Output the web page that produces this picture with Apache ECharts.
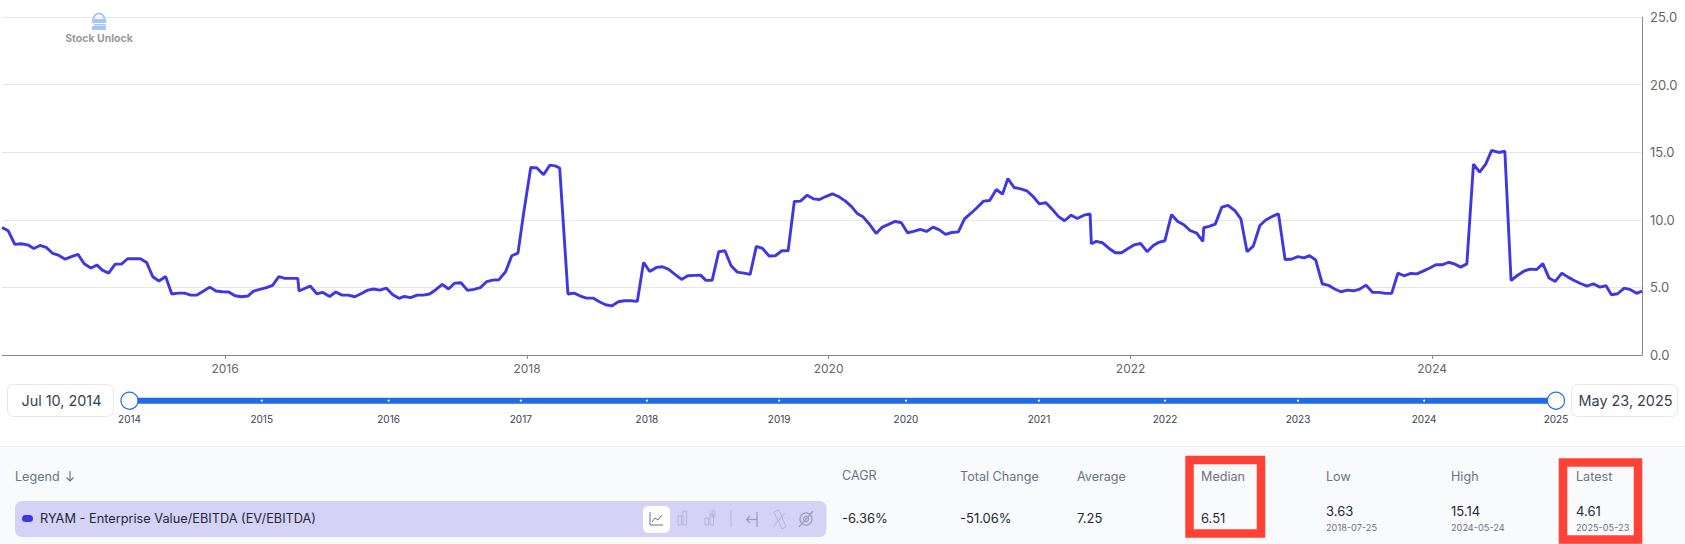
<!DOCTYPE html>
<html><head><meta charset="utf-8">
<style>html,body{margin:0;padding:0;background:#fff}#c{width:1685px;height:544px}</style>
<script src="https://cdn.jsdelivr.net/npm/echarts@6/dist/echarts.min.js"></script>
</head><body><div id="c"></div>
<script>
const dates = [
"2014-07-10","2014-07-25","2014-08-10","2014-08-25","2014-09-10","2014-09-25","2014-10-10","2014-10-25","2014-11-10","2014-11-25","2014-12-10","2014-12-25",
"2015-01-10","2015-01-25","2015-02-10","2015-02-25","2015-03-10","2015-03-25","2015-04-10","2015-04-25","2015-05-10","2015-05-25","2015-06-10","2015-06-25","2015-07-10","2015-07-25","2015-08-10","2015-08-25","2015-09-10","2015-09-25","2015-10-10","2015-10-25","2015-11-10","2015-11-25","2015-12-10","2015-12-25",
"2016-01-10","2016-01-25","2016-02-10","2016-02-25","2016-03-10","2016-03-25","2016-04-10","2016-04-25","2016-05-10","2016-05-25","2016-06-10","2016-06-25","2016-06-28","2016-07-10","2016-07-25","2016-08-10","2016-08-25","2016-09-10","2016-09-25","2016-10-10","2016-10-25","2016-11-10","2016-11-25","2016-12-10","2016-12-25",
"2017-01-10","2017-01-25","2017-02-10","2017-02-25","2017-03-10","2017-03-25","2017-04-10","2017-04-25","2017-05-10","2017-05-25","2017-06-10","2017-06-25","2017-07-10","2017-07-25","2017-08-10","2017-08-25","2017-09-10","2017-09-25","2017-10-10","2017-10-25","2017-11-10","2017-11-25","2017-12-10","2017-12-25",
"2018-01-10","2018-01-25","2018-02-10","2018-02-25","2018-03-10","2018-03-21","2018-04-10","2018-04-25","2018-05-10","2018-05-25","2018-06-10","2018-06-25","2018-07-10","2018-07-25","2018-08-10","2018-08-25","2018-09-10","2018-09-25","2018-10-10","2018-10-25","2018-11-10","2018-11-25","2018-12-10","2018-12-25",
"2019-01-10","2019-01-25","2019-02-10","2019-02-25","2019-03-10","2019-03-25","2019-04-10","2019-04-25","2019-05-10","2019-05-25","2019-06-10","2019-06-25","2019-07-10","2019-07-25","2019-08-10","2019-08-25","2019-09-10","2019-09-25","2019-10-10","2019-10-25","2019-11-10","2019-11-25","2019-12-10","2019-12-25",
"2020-01-10","2020-01-25","2020-02-10","2020-02-25","2020-03-10","2020-03-25","2020-04-10","2020-04-25","2020-05-10","2020-05-25","2020-06-10","2020-06-25","2020-07-10","2020-07-25","2020-08-10","2020-08-25","2020-09-10","2020-09-25","2020-10-10","2020-10-25","2020-11-10","2020-11-25","2020-12-10","2020-12-25",
"2021-01-10","2021-01-25","2021-02-10","2021-02-25","2021-03-10","2021-03-25","2021-04-10","2021-04-25","2021-05-10","2021-05-25","2021-06-10","2021-06-25","2021-07-10","2021-07-25","2021-08-10","2021-08-25","2021-09-10","2021-09-25","2021-09-28","2021-10-10","2021-10-25","2021-11-10","2021-11-25","2021-12-10","2021-12-25",
"2022-01-10","2022-01-25","2022-02-10","2022-02-25","2022-03-10","2022-03-25","2022-04-10","2022-04-25","2022-05-10","2022-05-25","2022-06-10","2022-06-25","2022-06-27","2022-07-10","2022-07-25","2022-08-10","2022-08-25","2022-09-10","2022-09-25","2022-10-10","2022-10-25","2022-11-10","2022-11-25","2022-12-10","2022-12-25",
"2023-01-10","2023-01-25","2023-02-10","2023-02-25","2023-03-10","2023-03-25","2023-04-10","2023-04-25","2023-05-10","2023-05-25","2023-06-10","2023-06-25","2023-07-10","2023-07-25","2023-08-10","2023-08-25","2023-09-10","2023-09-25","2023-10-10","2023-10-25","2023-11-10","2023-11-25","2023-12-10","2023-12-25",
"2024-01-10","2024-01-25","2024-02-10","2024-02-25","2024-03-10","2024-03-25","2024-04-10","2024-04-25","2024-05-10","2024-05-24","2024-06-10","2024-06-25","2024-07-10","2024-07-25","2024-08-10","2024-08-25","2024-09-10","2024-09-25","2024-10-10","2024-10-25","2024-11-10","2024-11-25","2024-12-10","2024-12-25",
"2025-01-10","2025-01-25","2025-02-10","2025-02-25","2025-03-10","2025-03-25","2025-04-10","2025-04-25","2025-05-10","2025-05-23"
];
const evEbitda = [
9.43,9.19,8.18,8.23,8.15,7.88,8.10,7.96,7.51,7.36,7.09,7.27,
7.44,6.75,6.43,6.65,6.28,6.06,6.72,6.72,7.12,7.12,7.12,6.85,5.79,5.47,5.81,4.51,4.58,4.58,4.43,4.43,4.73,5.02,4.73,4.68,
4.66,4.38,4.31,4.36,4.73,4.85,4.98,5.15,5.79,5.67,5.67,5.67,4.73,4.90,5.10,4.53,4.63,4.33,4.66,4.43,4.43,4.31,4.53,4.78,4.88,
4.80,4.95,4.46,4.19,4.33,4.24,4.43,4.43,4.51,4.83,5.22,4.88,5.32,5.34,4.78,4.85,4.98,5.42,5.54,5.57,6.16,7.34,7.54,10.75,
13.87,13.84,13.33,14.04,13.99,13.83,4.51,4.58,4.36,4.21,4.21,3.94,3.72,3.63,3.94,4.01,4.01,3.97,6.85,6.18,6.48,6.53,6.33,5.96,
5.59,5.86,5.89,5.91,5.52,5.52,7.64,7.71,6.60,6.13,6.06,5.96,8.03,7.88,7.32,7.34,7.71,7.71,11.35,11.38,11.82,11.55,11.50,11.72,
11.92,11.72,11.40,10.99,10.47,10.20,9.63,8.99,9.46,9.66,9.88,9.78,9.04,9.14,9.29,9.14,9.46,9.26,8.92,9.06,9.11,10.07,10.47,10.89,
11.38,11.43,12.24,11.90,13.05,12.39,12.29,12.14,11.72,11.18,11.26,10.79,10.25,9.93,10.34,10.10,10.34,10.44,8.23,8.40,8.30,7.88,7.56,7.56,7.86,
8.15,8.25,7.64,8.10,8.33,8.45,10.39,9.88,9.63,9.21,9.01,8.40,9.41,9.51,9.68,10.94,11.06,10.69,10.07,7.64,8.05,9.58,10.00,10.25,10.44,
7.06,7.08,7.28,7.18,7.35,7.03,5.27,5.15,4.88,4.68,4.80,4.75,4.88,5.17,4.63,4.63,4.56,4.56,6.05,5.86,6.03,6.00,6.20,6.42,
6.67,6.67,6.86,6.72,6.50,6.74,14.12,13.53,14.14,15.14,14.98,15.07,5.51,5.88,6.20,6.35,6.32,6.76,5.69,5.44,6.05,5.76,5.51,5.29,
5.10,5.27,5.02,5.12,4.46,4.53,4.95,4.83,4.56,4.73
];
const yTicks = ["0.0","5.0","10.0","15.0","20.0","25.0"];
const sliderYears = ["2014","2015","2016","2017","2018","2019","2020","2021","2022","2023","2024","2025"];
const sliderDates = ["2014-07-10","2015-07-13","2016-06-30","2017-07-03","2018-06-19","2019-06-22","2020-06-09","2021-06-14","2022-05-31","2023-06-05","2024-05-21","2025-05-23"];
const rangeLabels = ["Jul 10, 2014","May 23, 2025"];
const legendName = "RYAM - Enterprise Value/EBITDA (EV/EBITDA)";
const statHeaders = ["CAGR","Total Change","Average","Median","Low","High","Latest"];
const statValues = ["-6.36%","-51.06%","7.25","6.51","3.63","15.14","4.61"];
const statDates = ["","","","","2018-07-25","2024-05-24","2025-05-23"];

const FONT = 'Inter, "Noto Sans", sans-serif';
const statX = [842,960,1077,1201,1326,1451,1576];
const LINE = '#3f37e2', BLUE = '#1f6ce6';
const txt = (x,y,text,size,fill,extra) => ({type:'text',z:20,style:Object.assign({x,y,text,font:`${size}px ${FONT}`,fontSize:size,fontFamily:FONT,fill,verticalAlign:'middle',align:'left'},extra||{})});
const rect = (x,y,w,h,r,fill,stroke,lw,z) => ({type:'rect',z:z||1,shape:{x,y,width:w,height:h,r},style:{fill,stroke:stroke||null,lineWidth:lw||0}});
const pl = (pts,stroke,lw) => ({type:'polyline',z:21,shape:{points:pts},style:{fill:null,stroke,lineWidth:lw||1}});
const g = [];
// watermark
g.push({type:'arc',z:5,shape:{cx:99,cy:19,r:5.5,startAngle:Math.PI,endAngle:0,clockwise:true},style:{fill:null,stroke:'#a3c6ff',lineWidth:2}});
g.push(rect(92,19,14,4,0,'#a3c6ff',null,0,5),rect(94,24,12,1.5,0,'#a3c6ff',null,0,5),rect(92,26,14,4,0,'#a3c6ff',null,0,5));
g.push(txt(99,38,'Stock Unlock',10.5,'#9a9a9a',{align:'center',font:`bold 10.5px ${FONT}`,fontWeight:'bold'}));
// range boxes
g.push(rect(7.5,384.5,106,32,6,'#fff','#e5e7eb',1),rect(1571.5,384.5,106,32,6,'#fff','#e5e7eb',1));
g.push(txt(61.5,400.5,rangeLabels[0],14.4,'#374151',{align:'center'}),txt(1625.5,400.5,rangeLabels[1],14.4,'#374151',{align:'center'}));
// panel
g.push(rect(0,447,1685,97,0,'#f9fafb',null,0,0),rect(0,446,1685,1,0,'#eef0f3',null,0,0));
g.push(txt(15,476,'Legend',12.6,'#6b7280'),pl([[70,471],[70,481]],'#6b7280',1.2),pl([[66.5,477.5],[70,481],[73.5,477.5]],'#6b7280',1.2));
g.push(rect(15,501,811.5,36,7,'#d4d2f5'));
g.push(rect(22,515,11,7,3.5,LINE,null,0,3));
g.push(txt(40,518,legendName,12.75,'#1f2937'));
g.push(rect(643,506,27,27,5,'#fff',null,0,3));
g.push(pl([[650,512],[650,525],[663,525]],'#6b7280',1),pl([[652,522],[655,518],[658,520],[662,515]],'#6b7280',1));
const light='#b6b5d8';
g.push(rect(678,516,3.5,9,0,null,light,1,21),rect(683,511,3.5,14,0,null,light,1,21));
g.push(rect(705,518,3.5,7,0,null,light,1,21),rect(710,514,3.5,11,0,null,light,1,21),rect(712,511,3,6,0,null,light,1,21));
g.push(pl([[731,510],[731,527]],light,1));
g.push(pl([[757,512],[757,527]],'#9c9bc0',1.2),pl([[747,519.5],[757,519.5]],'#9c9bc0',1.2),pl([[750,516],[746.5,519.5],[750,523]],'#9c9bc0',1.2));
g.push(pl([[774,512],[779,510],[786,527],[782,529],[774,512]],light,1),pl([[773,527],[785,513]],light,1));
g.push({type:'circle',z:21,shape:{cx:806,cy:519,r:6},style:{fill:null,stroke:'#9c9bc0',lineWidth:1.2}},{type:'circle',z:21,shape:{cx:806,cy:519,r:2.5},style:{fill:null,stroke:'#9c9bc0',lineWidth:1.2}},pl([[799,527],[813,511]],'#9c9bc0',1.2));
// stats
statHeaders.forEach((h,i)=>{
  g.push(txt(statX[i],i===0?475:476,h,12.6,'#6b7280'));
  const hasDate = !!statDates[i];
  g.push(txt(statX[i],hasDate?510.5:518,statValues[i],13,'#1f2937'));
  if(hasDate) g.push(txt(statX[i],527.5,statDates[i],9.2,'#6b7280'));
});
g.push(rect(1189.5,460,71.5,73.5,0,'transparent','#ff4136',8.5,30));
g.push(rect(1563,462.5,75,77,0,'transparent','#ff4136',8.5,30));

const chart = echarts.init(document.getElementById('c'),null,{renderer:'svg',width:1685,height:544});
chart.setOption({
  animation:false,
  backgroundColor:'#fff',
  textStyle:{fontFamily:FONT},
  grid:[
    {left:2,right:43,top:17,height:338,containLabel:false},
    {left:129.5,width:1426.5,top:390.7,height:20}
  ],
  xAxis:[
    {type:'time',gridIndex:0,min:'2014-07-10',max:'2025-05-23',splitNumber:5,
     axisLine:{lineStyle:{color:'#888',width:1}},axisTick:{show:true,length:4,lineStyle:{color:'#888'},alignWithLabel:true},
     axisLabel:{show:true,color:'#666',fontSize:12,margin:7,hideOverlap:false,showMinLabel:false,showMaxLabel:false,
       formatter:v=>{const d=new Date(v);return d.getUTCMonth()===0&&d.getUTCDate()===1?String(d.getUTCFullYear()):'';}},
     splitLine:{show:false},minorTick:{show:false}},
    {type:'time',gridIndex:1,min:sliderDates[0],max:sliderDates[sliderDates.length-1],show:false}
  ],
  yAxis:[
    {type:'value',gridIndex:0,position:'right',min:0,max:25,interval:5,
     axisLine:{show:true,lineStyle:{color:'#888',width:1}},axisTick:{show:false},
     axisLabel:{color:'#666',fontSize:13,margin:8,formatter:v=>yTicks[v/5]},
     splitLine:{show:true,lineStyle:{color:'#e6e6e6',width:1}}},
    {type:'value',gridIndex:1,min:0,max:1,show:false}
  ],
  series:[
    {type:'line',xAxisIndex:0,yAxisIndex:0,data:dates.map((d,i)=>[d,evEbitda[i]]),symbol:'none',
     lineStyle:{color:LINE,width:2.9},itemStyle:{color:LINE},z:5,clip:true,silent:true},
    {type:'line',xAxisIndex:1,yAxisIndex:1,data:sliderDates.map(d=>[d,0.5]),symbol:'circle',symbolSize:2,showAllSymbol:true,clip:false,silent:true,
     lineStyle:{color:BLUE,width:6,cap:'butt'},itemStyle:{color:'#fff'},
     label:{show:true,position:'bottom',distance:12.5,fontSize:10,color:'#374151',fontFamily:FONT,formatter:p=>sliderYears[p.dataIndex]},z:3},
    {type:'line',xAxisIndex:1,yAxisIndex:1,data:[[sliderDates[0],0.5],[sliderDates[sliderDates.length-1],0.5]],symbol:'circle',symbolSize:17,showAllSymbol:true,clip:false,silent:true,
     lineStyle:{width:0,opacity:0},itemStyle:{color:'#fff',borderColor:BLUE,borderWidth:1.2},z:6}
  ],
  graphic:{elements:g}
});
</script></body></html>
